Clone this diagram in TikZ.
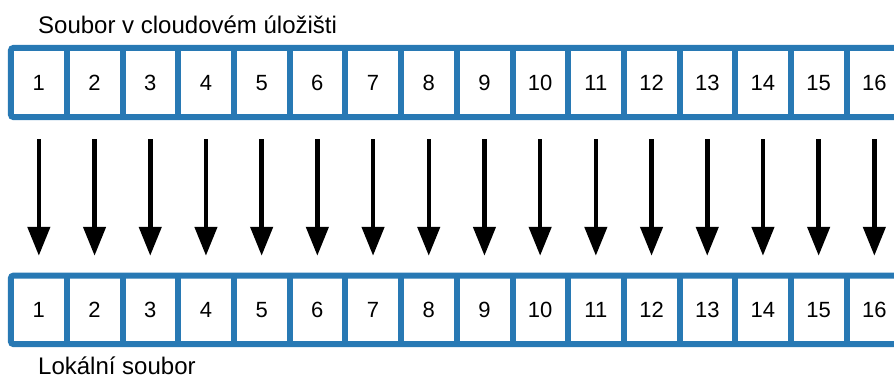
\documentclass[tikz,border=0pt]{standalone}
\usepackage{fontspec}
\setmainfont{Liberation Sans}
\usetikzlibrary{arrows.meta}
\definecolor{stripblue}{RGB}{40,121,180}
\tikzset{
  cell/.style={draw=none, minimum width=55.7pt, minimum height=#1, inner sep=0pt,
    text height=15.8pt, text depth=0pt, font=\fontsize{22}{26}\selectfont},
  frame/.style={draw=stripblue, line width=6pt, rounded corners=3pt},
  divider/.style={draw=stripblue, line width=6pt},
  caption/.style={anchor=base west, inner sep=0pt, font=\fontsize{24}{28}\selectfont},
  copyarrow/.style={line width=4.5pt, -{Triangle[width=22pt,length=29pt]},
    shorten <=22pt, shorten >=19.7pt}
}
\begin{document}
\begin{tikzpicture}[x=1pt,y=-1pt]
  \useasboundingbox (0,0) rectangle (894,378);
  \clip (0,0) rectangle (894,378);
  % remote file cells (top) and local file cells (bottom)
  \foreach \k in {1,...,16} {
    \node[cell=69pt] (t\k) at ({11+55.7*(\k-0.5)},82.5) {\k};
    \node[cell=68.3pt] (b\k) at ({11+55.7*(\k-0.5)},309.85) {\k};
  }
  % strip outlines
  \draw[frame] (t1.north west) rectangle (t16.south east);
  \draw[frame] (b1.north west) rectangle (b16.south east);
  \foreach \k in {1,...,15} {
    \draw[divider] (t\k.north east) -- (t\k.south east);
    \draw[divider] (b\k.north east) -- (b\k.south east);
  }
  % block-by-block transfer
  \foreach \k in {1,...,16} {
    \draw[copyarrow] (t\k.south) -- (b\k.north);
  }
  % captions
  \node[caption] (toplabel) at (38,33) {Soubor v cloudovém úložišti};
  \node[caption] (botlabel) at (38,374) {Lokální soubor};
\end{tikzpicture}
\end{document}
